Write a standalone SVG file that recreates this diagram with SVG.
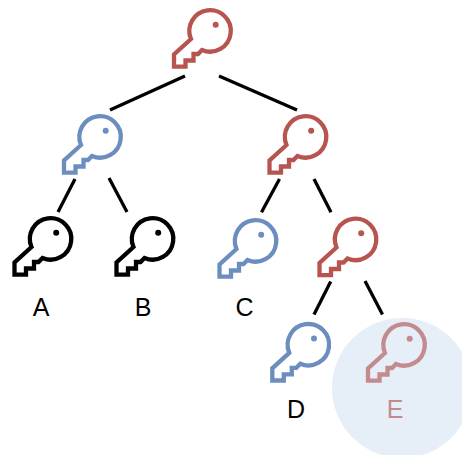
<svg xmlns="http://www.w3.org/2000/svg" width="462" height="455" viewBox="0 0 462 455">
<style>
.red{color:#b85450}.blue{color:#6c8ebf}.black{color:#000}.faded{color:#c48b8e}
.k{fill:none;stroke:currentColor;stroke-width:4.3;stroke-miterlimit:10}
.d{fill:currentColor}
text{font-family:"Liberation Sans",Arial,sans-serif;font-size:25px;text-anchor:middle;fill:#000}
#connectors line{stroke:#000;stroke-width:3.3}
</style>
<defs>
<g id="key">
<path class="k" d="M-19,9 L-36,24.5 V36.7 H-24.5 V30.5 H-16.5 V24 H-12 L-8,20 A20.7,20.7 0 1 0 -19,9 Z"/>
<circle class="d" cx="5.7" cy="-5.3" r="3"/>
</g>
</defs>
<circle id="highlight" cx="402" cy="388" r="70" fill="#e6eef8"/>
<g id="connectors">
<line x1="185" y1="76" x2="110" y2="110"/>
<line x1="219" y1="76" x2="297" y2="110"/>
<line x1="75" y1="179" x2="58" y2="212"/>
<line x1="109" y1="178" x2="127" y2="212"/>
<line x1="279.5" y1="179" x2="261.5" y2="212.3"/>
<line x1="314" y1="179" x2="331" y2="212.3"/>
<line x1="330.7" y1="281.5" x2="314" y2="314.5"/>
<line x1="365" y1="281" x2="382.5" y2="314.5"/>
</g>
<g id="root" class="red"><use href="#key" transform="translate(210,30)"/></g>
<g id="n-left" class="blue"><use href="#key" transform="translate(100,136)"/></g>
<g id="n-right" class="red"><use href="#key" transform="translate(305.5,136)"/></g>
<g id="n-a" class="black"><use href="#key" transform="translate(50.5,238)"/><text x="41" y="316">A</text></g>
<g id="n-b" class="black"><use href="#key" transform="translate(152.5,238)"/><text x="143" y="316">B</text></g>
<g id="n-c" class="blue"><use href="#key" transform="translate(255.5,240)"/><text x="244.5" y="316">C</text></g>
<g id="n-rr" class="red"><use href="#key" transform="translate(355.5,238.5)"/></g>
<g id="n-d" class="blue"><use href="#key" transform="translate(308.3,343.8)"/><text x="296" y="418">D</text></g>
<g id="n-e" class="faded"><use href="#key" transform="translate(404,344)"/><text x="395" y="418" style="fill:#c48b8e">E</text></g>
</svg>
